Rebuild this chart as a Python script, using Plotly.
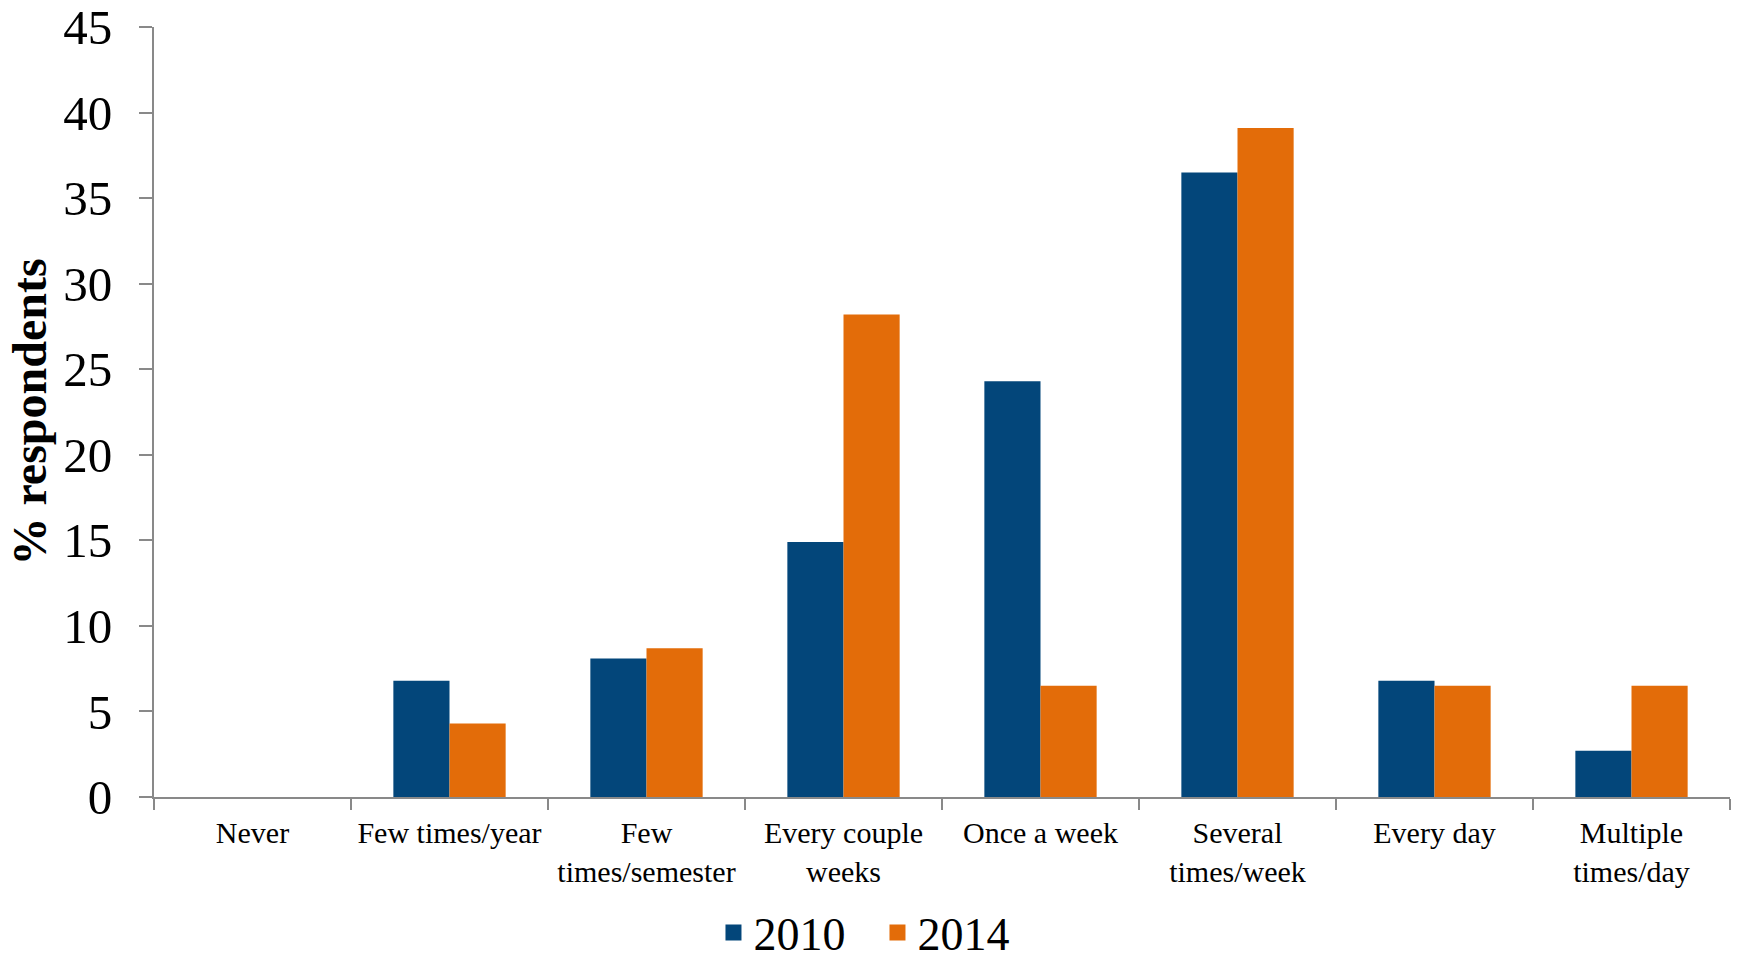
import plotly.graph_objects as go

categories = ["Never", "Few times/year", "Few<br>times/semester", "Every couple<br>weeks",
              "Once a week", "Several<br>times/week", "Every day", "Multiple<br>times/day"]
pct_2010 = [0, 6.8, 8.1, 14.9, 24.3, 36.5, 6.8, 2.7]
pct_2014 = [0, 4.3, 8.7, 28.2, 6.5, 39.1, 6.5, 6.5]
y_ticks = [0, 5, 10, 15, 20, 25, 30, 35, 40, 45]
series_names = ["2010", "2014"]

BLUE = "#03467A"
ORANGE = "#E36C09"
AXIS = "#898989"
FONT = "Liberation Serif"

fig = go.Figure()
for name, values, color in zip(series_names, [pct_2010, pct_2014], [BLUE, ORANGE]):
    fig.add_trace(go.Bar(x=categories, y=values, name=name, marker_color=color,
                         marker_line_width=0, showlegend=False, legendgroup=name))
    # legend key: larger square swatch than the default bar key
    fig.add_trace(go.Scatter(x=[None], y=[None], mode="markers", name=name,
                             legendgroup=name,
                             marker=dict(symbol="square", size=16, color=color)))

fig.update_layout(
    width=1737, height=959,
    margin=dict(l=154, r=7, t=27, b=162, autoexpand=False),
    paper_bgcolor="white", plot_bgcolor="white",
    barmode="group", bargap=0.43, bargroupgap=0,
    font=dict(family=FONT, color="black"),
    showlegend=True,
    legend=dict(orientation="h", x=0.355, xanchor="left", y=-0.176, yanchor="middle",
                font=dict(size=46, family=FONT), itemwidth=30,
                entrywidth=119, entrywidthmode="pixels", bgcolor="rgba(0,0,0,0)"),
)
fig.update_xaxes(
    type="category", showline=True, linecolor=AXIS, linewidth=2,
    ticks="outside", tickson="boundaries", ticklen=11, tickcolor=AXIS, tickwidth=2,
    tickfont=dict(size=30, family=FONT), showgrid=False, zeroline=False,
    ticklabelstandoff=8, automargin=False,
)
fig.update_yaxes(
    range=[0, 45], tickvals=y_ticks, showline=True, linecolor=AXIS, linewidth=2,
    ticks="outside", ticklen=13, tickcolor=AXIS, tickwidth=2,
    tickfont=dict(size=49, family=FONT), showgrid=False, zeroline=False,
    ticklabelstandoff=17, automargin=False, ticklabeloverflow="allow",
    title=dict(text="<b>% respondents</b>", font=dict(size=48, family=FONT), standoff=1),
)

fig.write_html("out.html")
